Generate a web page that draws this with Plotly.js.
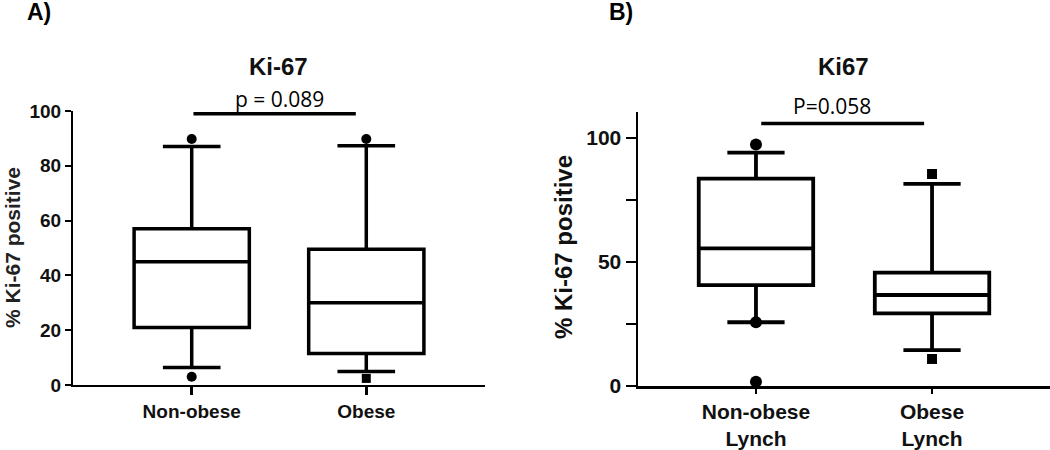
<!DOCTYPE html>
<html>
<head>
<meta charset="utf-8">
<script src="https://cdn.plot.ly/plotly-3.0.1.min.js"></script>
<style>html,body{margin:0;padding:0;background:#fff;}#chart{width:1050px;height:450px;}</style>
</head>
<body>
<div id="chart"></div>
<script>
// ---------- Panel A: Ki-67 ----------
const catsA = ['Non-obese', 'Obese'];
const q1A = [21, 11.5];
const medA = [45, 30];
const q3A = [57, 49.5];
const loA = [6.4, 4.9];
const hiA = [87, 87.3];
const outA_cat = [0, 0, 1];
const outA_val = [89.8, 3.0, 89.8];
const outA2_cat = [1];
const outA2_val = [2.4];
const bracketA_x = [0.01, 0.94];
const bracketA_y = [99, 99];
const pA = 'p = 0.089';

// ---------- Panel B: Ki67 (Lynch) ----------
const catsB = ['Non-obese<br>Lynch', 'Obese<br>Lynch'];
const q1B = [40.7, 29.3];
const medB = [55.5, 36.7];
const q3B = [83.6, 45.7];
const loB = [25.7, 14.5];
const hiB = [94.1, 81.5];
const outB1_cat = [0, 0, 0];
const outB1_val = [97.4, 25.7, 1.7];
const outB2_cat = [1, 1];
const outB2_val = [85.5, 10.9];
const bracketB_x = [0.03, 0.955];
const bracketB_y = [105.9, 105.9];
const pB = 'P=0.058';

const idx = [0, 1];
const ARIAL = 'Arial, "Liberation Sans", sans-serif';
const OPEN = '"Open Sans", "Noto Sans", sans-serif';

const traces = [
  {type:'box', x: idx, q1: q1A, median: medA, q3: q3A, lowerfence: loA, upperfence: hiA,
   xaxis:'x', yaxis:'y', width:0.66, whiskerwidth:0.5, boxpoints:false,
   fillcolor:'white', line:{color:'black', width:3.5}, hoverinfo:'skip'},
  {type:'scatter', mode:'markers', x: outA_cat, y: outA_val, xaxis:'x', yaxis:'y', cliponaxis:false,
   marker:{symbol:'circle', size:10, color:'black'}},
  {type:'scatter', mode:'markers', x: outA2_cat, y: outA2_val, xaxis:'x', yaxis:'y', cliponaxis:false,
   marker:{symbol:'square', size:9, color:'black'}},
  {type:'scatter', mode:'lines', x: bracketA_x, y: bracketA_y, xaxis:'x', yaxis:'y', cliponaxis:false,
   line:{color:'black', width:3.5}},

  {type:'box', x: idx, q1: q1B, median: medB, q3: q3B, lowerfence: loB, upperfence: hiB,
   xaxis:'x2', yaxis:'y2', width:0.65, whiskerwidth:0.5, boxpoints:false,
   fillcolor:'white', line:{color:'black', width:3.8}, hoverinfo:'skip'},
  {type:'scatter', mode:'markers', x: outB1_cat, y: outB1_val, xaxis:'x2', yaxis:'y2', cliponaxis:false,
   marker:{symbol:'circle', size:12, color:'black'}},
  {type:'scatter', mode:'markers', x: outB2_cat, y: outB2_val, xaxis:'x2', yaxis:'y2', cliponaxis:false,
   marker:{symbol:'square', size:10, color:'black'}},
  {type:'scatter', mode:'lines', x: bracketB_x, y: bracketB_y, xaxis:'x2', yaxis:'y2', cliponaxis:false,
   line:{color:'black', width:3.5}}
];

const W = 1050, H = 450;
const px = v => v / W;
const py = v => (H - v) / H;

const layout = {
  width: W, height: H,
  margin: {l:0, r:0, t:0, b:0},
  paper_bgcolor:'white', plot_bgcolor:'white',
  showlegend:false,
  xaxis: {domain:[px(73), px(485)], range:[-0.68, 1.68], tickvals: idx, ticktext: catsA,
    showline:true, linecolor:'black', linewidth:2, ticks:'outside', ticklen:8, tickwidth:2.5, tickcolor:'black',
    showgrid:false, zeroline:false, fixedrange:true,
    tickfont:{family:ARIAL, size:19, color:'#111', weight:'bold'}},
  yaxis: {domain:[py(385), py(111)], range:[0, 100], tickvals:[0,20,40,60,80,100],
    showline:true, linecolor:'black', linewidth:2, ticks:'outside', ticklen:6, tickwidth:2, tickcolor:'black',
    showgrid:false, zeroline:false, fixedrange:true,
    tickfont:{family:ARIAL, size:19, color:'#111', weight:'bold'}},
  xaxis2: {domain:[px(638), 1], range:[-0.67, 1.67], tickvals: idx, ticktext: catsB, anchor:'y2',
    showline:true, linecolor:'black', linewidth:2.5, ticks:'outside', ticklen:5, tickwidth:2, tickcolor:'black',
    showgrid:false, zeroline:false, fixedrange:true,
    tickfont:{family:ARIAL, size:21, color:'#111', weight:'bold'}},
  yaxis2: {domain:[py(386), py(112)], range:[0, 110.5], tickvals:[0,25,50,75,100], ticktext:['0','','50','','100'],
    anchor:'x2',
    showline:true, linecolor:'black', linewidth:2.5, ticks:'outside', ticklen:10, tickwidth:2, tickcolor:'black',
    showgrid:false, zeroline:false, fixedrange:true,
    tickfont:{family:ARIAL, size:21, color:'#111', weight:'bold'}},
  annotations: [
    {text:'A)', xref:'paper', yref:'paper', x:px(25), y:py(12), xanchor:'left', yanchor:'middle', showarrow:false,
     font:{family:ARIAL, size:23, color:'black', weight:'bold'}},
    {text:'B)', xref:'paper', yref:'paper', x:px(607), y:py(12), xanchor:'left', yanchor:'middle', showarrow:false,
     font:{family:ARIAL, size:23, color:'black', weight:'bold'}},
    {text:'Ki-67', xref:'paper', yref:'paper', x:px(278), y:py(67), xanchor:'center', yanchor:'middle', showarrow:false,
     font:{family:ARIAL, size:24, color:'#111', weight:'bold'}},
    {text:'Ki67', xref:'paper', yref:'paper', x:px(843), y:py(67), xanchor:'center', yanchor:'middle', showarrow:false,
     font:{family:ARIAL, size:24, color:'#111', weight:'bold'}},
    {text: pA, xref:'paper', yref:'paper', x:px(279), y:py(99), xanchor:'center', yanchor:'middle', showarrow:false,
     font:{family:OPEN, size:21, color:'black'}},
    {text: pB, xref:'paper', yref:'paper', x:px(832), y:py(106), xanchor:'center', yanchor:'middle', showarrow:false,
     font:{family:OPEN, size:21, color:'black'}},
    {text:'% Ki-67 positive', xref:'paper', yref:'paper', x:px(12), y:py(248), xanchor:'center', yanchor:'middle',
     textangle:-90, showarrow:false, font:{family:ARIAL, size:21, color:'#222', weight:'bold'}},
    {text:'% Ki-67 positive', xref:'paper', yref:'paper', x:px(563), y:py(247), xanchor:'center', yanchor:'middle',
     textangle:-90, showarrow:false, font:{family:ARIAL, size:24, color:'#111', weight:'bold'}}
  ]
};

Plotly.newPlot('chart', traces, layout, {staticPlot:true, displayModeBar:false});
</script>
</body>
</html>
